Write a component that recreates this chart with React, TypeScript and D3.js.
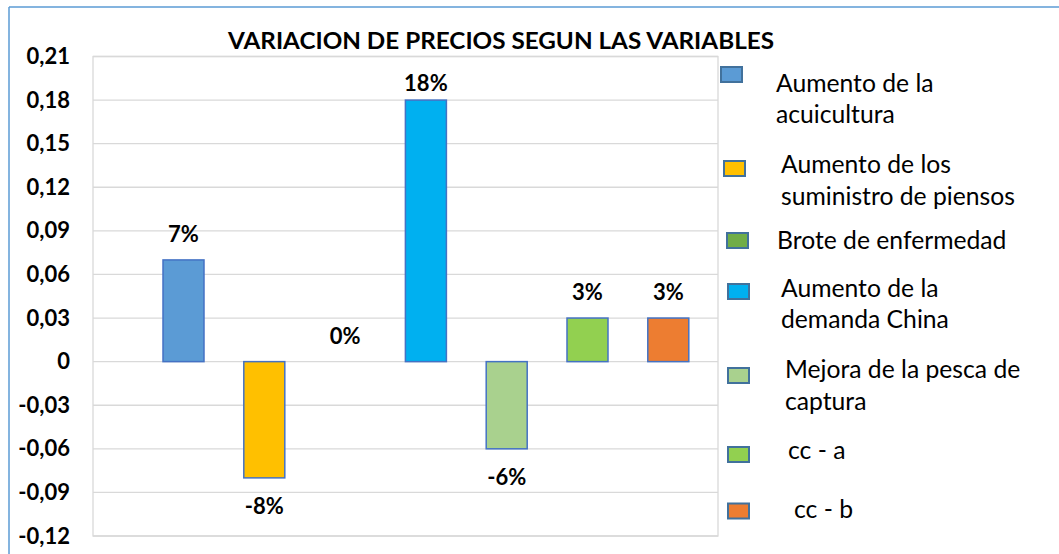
import React from "react";
import * as d3 from "d3";

const seriesNames = [
  "Aumento de la acuicultura",
  "Aumento de los suministro de piensos",
  "Brote de enfermedad",
  "Aumento de la demanda China",
  "Mejora de la pesca de captura",
  "cc - a",
  "cc - b",
];
const values = [0.07, -0.08, 0, 0.18, -0.06, 0.03, 0.03];
const valueLabels = ["7%", "-8%", "0%", "18%", "-6%", "3%", "3%"];
const colors = ["#5B9BD5", "#FFC000", "#70AD47", "#00B0F0", "#A9D18E", "#92D050", "#ED7D31"];
const legendLines = [
  ["Aumento de la", "acuicultura"],
  ["Aumento de los", "suministro de piensos"],
  ["Brote de enfermedad"],
  ["Aumento de la", "demanda China"],
  ["Mejora de la pesca de", "captura"],
  ["cc - a"],
  ["cc - b"],
];
const yTicks = [0.21, 0.18, 0.15, 0.12, 0.09, 0.06, 0.03, 0, -0.03, -0.06, -0.09, -0.12];
const yTickLabels = ["0,21", "0,18", "0,15", "0,12", "0,09", "0,06", "0,03", "0", "-0,03", "-0,06", "-0,09", "-0,12"];
const title = "VARIACION DE PRECIOS SEGUN LAS VARIABLES";

// legend layout (hand-placed in original)
const legendLayout = [
  { sx: 721, sy: 67, tx: 776, ty: 91.7 },
  { sx: 724, sy: 161, tx: 781, ty: 173.3 },
  { sx: 727, sy: 233, tx: 777, ty: 249.3 },
  { sx: 728, sy: 284, tx: 781, ty: 296.7 },
  { sx: 728, sy: 368, tx: 785, ty: 378.3 },
  { sx: 728, sy: 447, tx: 788, ty: 459.3 },
  { sx: 728, sy: 503.5, tx: 794, ty: 518.3 },
];

const W = 1059;
const H = 554;
const plot = { left: 93, right: 718, top: 56.5, bottom: 536 };
const FONT = "Lato, 'Open Sans', sans-serif";

export default function App() {
  const y = d3.scaleLinear().domain([-0.12, 0.21]).range([plot.bottom, plot.top]);
  const x = d3
    .scaleBand<string>()
    .domain(seriesNames)
    .range([142.8, 709])
    .paddingInner(0.4926)
    .paddingOuter(0.25);

  return (
    <svg
      width={W}
      height={H}
      style={{ position: "absolute", left: 0, top: 0, background: "#fff" }}
      fontFamily={FONT}
    >
      <rect x={0} y={0} width={W} height={H} fill="#fff" />
      {/* outer chart border (top and left visible) */}
      <line x1={9} y1={7} x2={W} y2={7} stroke="#5B9BD5" strokeWidth={1.5} />
      <line x1={9} y1={7} x2={9} y2={H} stroke="#5B9BD5" strokeWidth={1.5} />

      {/* gridlines */}
      {yTicks.map((t) => (
        <line
          key={"g" + t}
          x1={plot.left}
          x2={plot.right}
          y1={y(t)}
          y2={y(t)}
          stroke="#D9D9D9"
          strokeWidth={1.3}
        />
      ))}
      <rect
        x={plot.left}
        y={plot.top}
        width={plot.right - plot.left}
        height={plot.bottom - plot.top}
        fill="none"
        stroke="#D9D9D9"
        strokeWidth={1.3}
      />

      {/* y tick labels */}
      {yTicks.map((t, i) => (
        <text
          key={"t" + t}
          x={70}
          y={y(t) + 7.5}
          textAnchor="end"
          fontWeight="bold"
          fontSize={22}
          fill="#000"
        >
          {yTickLabels[i]}
        </text>
      ))}

      {/* bars */}
      {seriesNames.map((s, i) => {
        const v = values[i];
        const top = y(Math.max(0, v));
        const bot = y(Math.min(0, v));
        return (
          <rect
            key={"b" + s}
            x={x(s)}
            y={top}
            width={x.bandwidth()}
            height={bot - top}
            fill={colors[i]}
            stroke="#4472C4"
            strokeWidth={v === 0 ? 0 : 1.5}
          />
        );
      })}

      {/* data labels */}
      {seriesNames.map((s, i) => {
        const v = values[i];
        const cx = (x(s) as number) + x.bandwidth() / 2;
        const by =
          v >= 0 ? Math.max(y(v) - 18, plot.top + 34.5) : y(v) + 36.5;
        return (
          <text
            key={"l" + s}
            x={cx}
            y={by}
            textAnchor="middle"
            fontWeight="bold"
            fontSize={22}
            fill="#000"
          >
            {valueLabels[i]}
          </text>
        );
      })}

      {/* title */}
      <text
        x={501}
        y={49.3}
        textAnchor="middle"
        fontWeight="bold"
        fontSize={23}
        textLength={546}
        lengthAdjust="spacingAndGlyphs"
        fill="#000"
      >
        {title}
      </text>

      {/* legend */}
      {seriesNames.map((s, i) => {
        const L = legendLayout[i];
        return (
          <g key={"lg" + s}>
            <rect
              x={L.sx}
              y={L.sy}
              width={21}
              height={15}
              fill={colors[i]}
              stroke="#41719C"
              strokeWidth={2}
            />
            {legendLines[i].map((ln, j) => (
              <text
                key={j}
                x={L.tx}
                y={L.ty + j * 31.5}
                fontSize={24.7}
                fill="#000"
              >
                {ln}
              </text>
            ))}
          </g>
        );
      })}
    </svg>
  );
}
